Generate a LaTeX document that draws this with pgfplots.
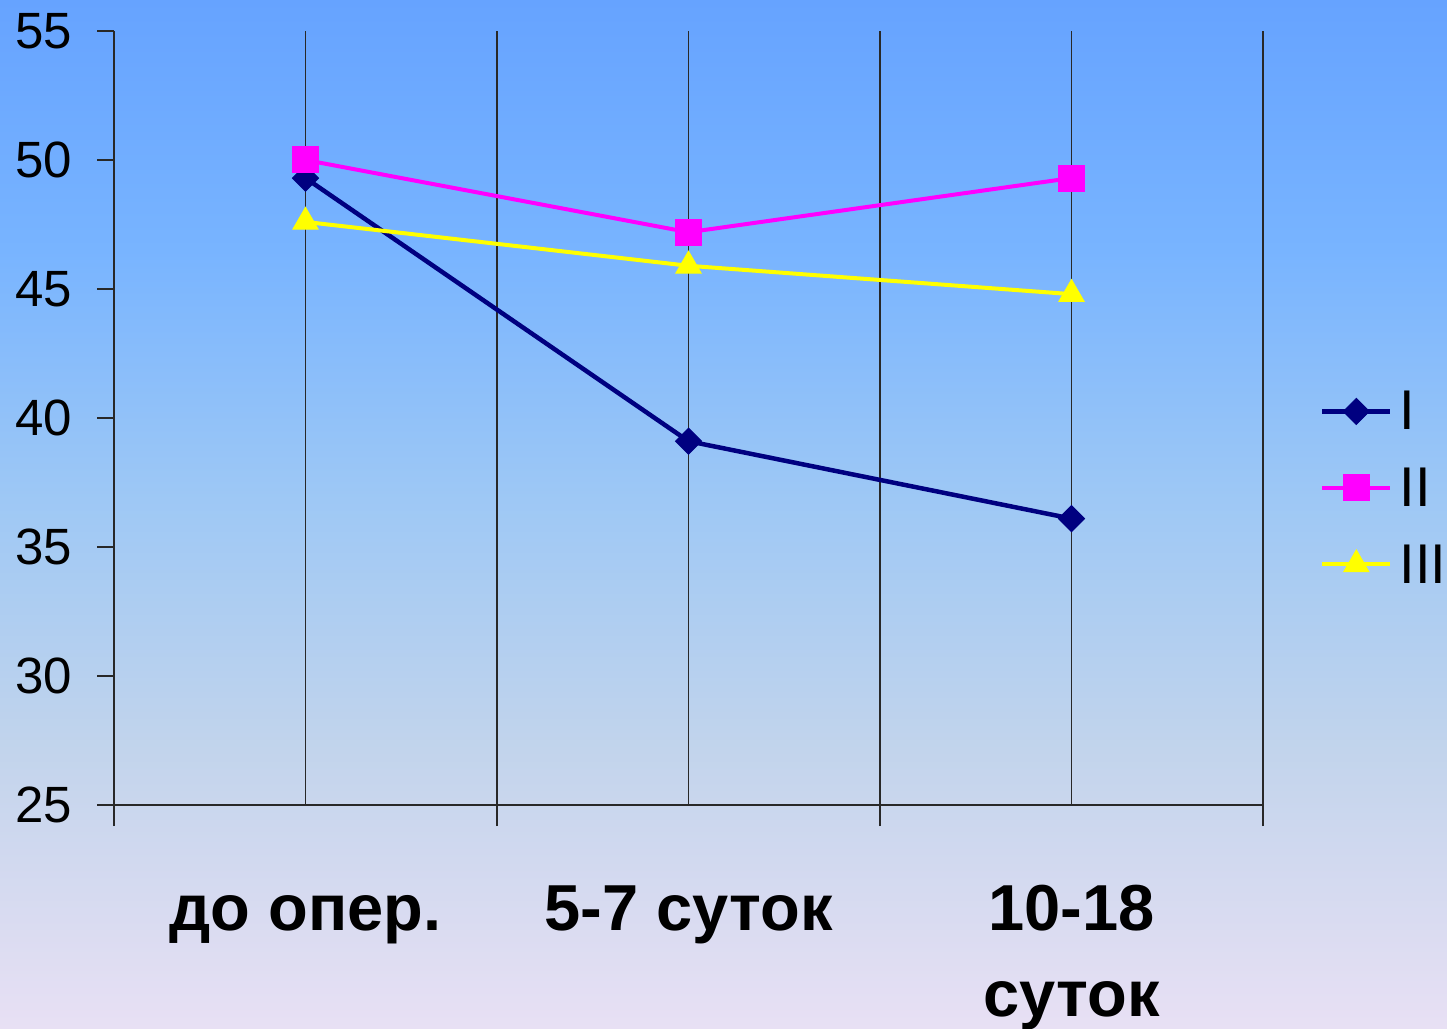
\documentclass[border=0pt]{standalone}
\usepackage{pgfplots}
\pgfplotsset{compat=1.18}
\usepackage{fontspec}
\setmainfont{Liberation Sans}
\definecolor{bgA}{RGB}{232,224,244}
\definecolor{bgB}{RGB}{194,212,236}
\definecolor{bgC}{RGB}{158,200,245}
\definecolor{bgD}{RGB}{120,180,255}
\definecolor{bgE}{RGB}{102,163,255}
\definecolor{sI}{RGB}{0,0,128}
\definecolor{sII}{RGB}{255,0,255}
\definecolor{sIII}{RGB}{255,255,0}
\definecolor{gridc}{RGB}{40,40,40}
\pgfdeclareverticalshading{bgshade}{100bp}{color(0bp)=(bgA); color(25bp)=(bgA); color(38.52bp)=(bgB); color(50.68bp)=(bgC); color(62.84bp)=(bgD); color(75bp)=(bgE); color(100bp)=(bgE)}
\begin{document}
\begin{tikzpicture}[x=1pt,y=1pt]
\shade[shading=bgshade] (0,0) rectangle (1447,1028);
\begin{axis}[
  at={(114pt,223pt)}, anchor=south west,
  scale only axis, width=1149pt, height=774pt,
  xmin=0, xmax=6, ymin=25, ymax=55,
  axis x line=bottom, axis y line=left,
  axis line style={-, gridc, line width=1.4pt},
  clip=false,
  tick align=outside,
  major tick length=17pt,
  ytick={25,30,...,55},
  ytick style={gridc, line width=1.4pt},
  yticklabel style={font=\fontsize{51}{60}\selectfont, anchor=east, inner sep=0pt, xshift=-25pt},
  /pgf/number format/assume math mode=true,
  xtick={1,3,5},
  xticklabels={до опер., 5-7 суток, {\begin{tabular}[t]{@{}c@{}}10-18\\суток\end{tabular}}},
  xticklabel style={font=\fontsize{65}{86}\selectfont\bfseries, anchor=north, inner sep=0pt, text height=47pt, yshift=-61pt},
  xtick style={draw=none},
  xmajorgrids,
  major grid style={gridc, line width=1.4pt},
  extra x ticks={0,2,4,6},
  extra x tick labels={},
  extra x tick style={grid=major, major tick length=21pt, xtick style={draw=gridc, line width=1.4pt}},
  legend style={draw=none, fill=none, at={(axis description cs:1.0495,0.4096)}, anchor=west, inner sep=0pt,
    font=\fontsize{56}{60}\selectfont, nodes={inner sep=1pt}, row sep=34.5pt, column sep=6pt},
  legend cell align=left,
  legend image code/.code={\draw[mark repeat=2, mark phase=2, #1] plot coordinates {(0pt,0pt)(34pt,0pt)(68pt,0pt)};},
]
\addplot[sI, line width=4.5pt, mark=square*, mark size=9.2pt, mark options={solid, rotate=45, line width=1pt}] coordinates {(1,49.3) (3,39.1) (5,36.1)};
\addlegendentry{I}
\addplot[sII, line width=4pt, mark=square*, mark size=13pt, mark options={solid, line width=1pt}] coordinates {(1,50.0) (3,47.2) (5,49.3)};
\addlegendentry{II}
\addplot[sIII, line width=4pt, mark=triangle*, mark size=14.5pt, mark options={solid, line width=1pt}] coordinates {(1,47.6) (3,45.9) (5,44.8)};
\addlegendentry{III}
\end{axis}
\pgfresetboundingbox
\path[use as bounding box] (0,0) rectangle (1447,1028);
\end{tikzpicture}
\end{document}
